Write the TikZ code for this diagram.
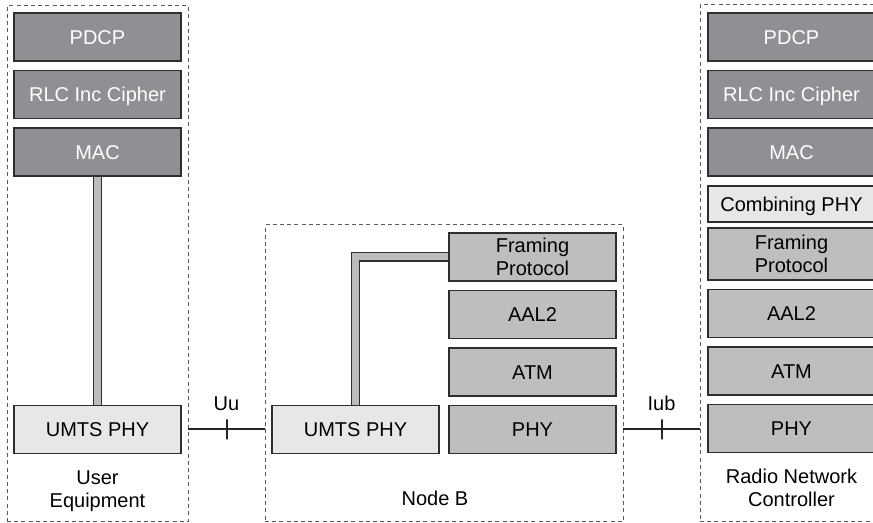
\documentclass[tikz,border=0pt]{standalone}
\usepackage{fontspec}
\setmainfont{Liberation Sans}
\usepackage{tikz}
\usetikzlibrary{positioning,fit,backgrounds}
\definecolor{darkgrey}{HTML}{8F9094}
\definecolor{midgrey}{HTML}{BDBEC0}
\definecolor{lightgrey}{HTML}{E6E7E8}
\definecolor{bargrey}{HTML}{BBBCBE}
\definecolor{edgegrey}{HTML}{2E2E2E}

\begin{document}
\begin{tikzpicture}[x=0.5pt, y=-0.5pt, node distance=4.75pt,
  every node/.style={font=\fontsize{10}{11.5}\selectfont, align=center, inner sep=0pt, outer sep=0pt},
  layer/.style={draw=edgegrey, line width=0.6pt, minimum width=83.5pt, minimum height=24pt,
    text height=7.2pt, text depth=0pt},
  twolines/.style={text height=18.7pt, text depth=0pt},
  upper/.style={layer, fill=darkgrey, text=white},
  lower/.style={layer, fill=midgrey},
  radio/.style={layer, fill=lightgrey},
  entity/.style={draw=black!65, line width=0.5pt, dash pattern=on 2pt off 1.6pt},
  bar/.style={draw=edgegrey, line width=0.6pt, double=bargrey, double distance=3.5pt},
  link/.style={draw=black!85, line width=1pt},
  tick/.style={draw=black!85, line width=1pt, minimum height=10pt, minimum width=0pt}]
\useasboundingbox (0,0) rectangle (873,523);

\node[upper] (ue-pdcp) at (97.5,37) {PDCP};
\node[upper, below=of ue-pdcp] (ue-rlc) {RLC Inc Cipher};
\node[upper, below=of ue-rlc] (ue-mac) {MAC};

\node[lower, twolines] (nb-fp) at (532.5,257) {Framing\\Protocol};
\node[lower, below=of nb-fp] (nb-aal2) {AAL2};
\node[lower, below=of nb-aal2] (nb-atm) {ATM};
\node[lower, below=of nb-atm] (nb-phy) {PHY};
\node[radio, left=5pt of nb-phy] (nb-umts) {UMTS PHY};

\node[radio] (ue-phy) at (ue-mac |- nb-phy) {UMTS PHY};

\node[upper] (rnc-pdcp) at (791.5,37) {PDCP};
\node[upper, below=of rnc-pdcp] (rnc-rlc) {RLC Inc Cipher};
\node[upper, below=of rnc-rlc] (rnc-mac) {MAC};
\node[radio, below=5pt of rnc-mac, minimum height=18pt] (rnc-comb) {Combining PHY};
\node[lower, twolines, below=3pt of rnc-comb, minimum height=26pt] (rnc-fp) {Framing\\Protocol};
\node[lower, below=of rnc-fp] (rnc-aal2) {AAL2};
\node[lower, below=of rnc-aal2] (rnc-atm) {ATM};
\node[lower, below=of rnc-atm] (rnc-phy) {PHY};

\node[below=8.5pt of ue-phy] (ue-name) {User\\Equipment};
\node[anchor=base] (nb-name) at (435,505.7) {Node B};
\node[below=8.5pt of rnc-phy] (rnc-name) {Radio Network\\Controller};

\node[entity, fit={(7,6) (188,521.5)}] (ue) {};
\node[entity, fit={(265,225) (623,521.5)}] (nb) {};
\node[entity, fit={(700,5) (885,521.5)}] (rnc) {};

\begin{scope}[on background layer]
\draw[bar] (ue-mac) -- (ue-phy);
\draw[bar] (nb-umts) |- (nb-fp);
\end{scope}

\draw[link] (ue-phy.east -| ue.east) -- node[tick] (uu-tick) {} node[above=9.2pt] (uu) {Uu} (ue-phy.east -| nb.west);
\draw[link] (nb-phy.east -| nb.east) -- node[tick] (iub-tick) {} node[above=9.2pt] (iub) {Iub} (nb-phy.east -| rnc.west);
\end{tikzpicture}
\end{document}
